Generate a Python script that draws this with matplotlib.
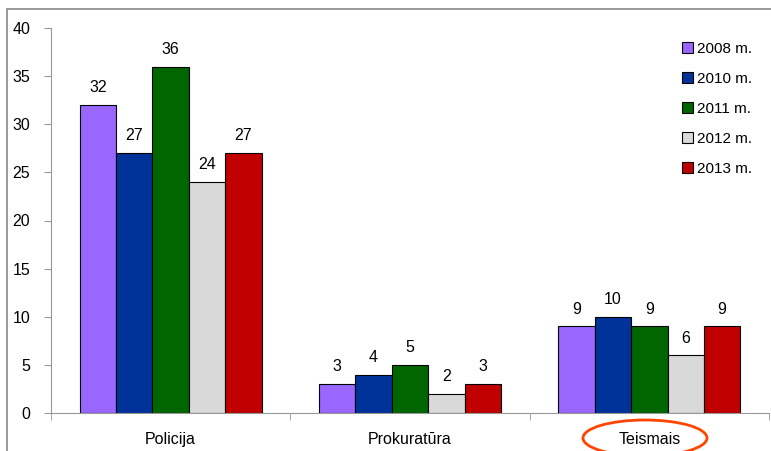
import matplotlib.pyplot as plt
from matplotlib.patches import Ellipse, Rectangle
import numpy as np

plt.rcParams['font.family'] = ['Liberation Sans', 'DejaVu Sans']

categories = ['Policija', 'Prokuratūra', 'Teismais']
years = ['2008 m.', '2010 m.', '2011 m.', '2012 m.', '2013 m.']
v2008 = [32, 3, 9]
v2010 = [27, 4, 10]
v2011 = [36, 5, 9]
v2012 = [24, 2, 6]
v2013 = [27, 3, 9]
series = [v2008, v2010, v2011, v2012, v2013]
colors = ['#9966FF', '#003399', '#006600', '#D9D9D9', '#C00000']

fig = plt.figure(figsize=(7.71, 4.51), dpi=100)
ax = fig.add_axes([51/771, 38/451, 718/771, 385/451])

x = np.arange(len(categories))
w = 0.152
for i, (vals, c) in enumerate(zip(series, colors)):
    pos = x + (i - 2) * w
    ax.bar(pos, vals, w, color=c, edgecolor='black', linewidth=0.8, label=years[i])
    for p, v in zip(pos, vals):
        ax.annotate(str(v), (p, v), xytext=(0, 7), textcoords='offset points',
                    ha='center', va='bottom', fontsize=11.5)

ax.set_xlim(-0.5, 2.5)
ax.set_ylim(0, 40)
ax.set_yticks(range(0, 41, 5))
ax.set_xticks(x)
ax.set_xticklabels(categories, fontsize=11.5)
ax.set_xticks([-0.5, 0.5, 1.5, 2.5], minor=True)
ax.tick_params(axis='x', which='major', length=0, pad=14)
ax.tick_params(axis='x', which='minor', length=5, color='#999999')
ax.tick_params(axis='y', length=5, color='#999999', labelsize=11.5, pad=10)
for s in ['top', 'right']:
    ax.spines[s].set_visible(False)
for s in ['left', 'bottom']:
    ax.spines[s].set_color('#999999')

ax.legend(loc='upper left', bbox_to_anchor=(668/771, 1 - 28/451), bbox_transform=fig.transFigure,
          frameon=False, fontsize=11, handlelength=0.75, handleheight=0.75,
          handletextpad=0.25, labelspacing=1.05)

# outer chart border
fig.patches.append(Rectangle((7/771, -0.05), 1.0, 1 - 9/451 + 0.05, transform=fig.transFigure,
                             fill=False, edgecolor='#888888', linewidth=1.2))
# red ellipse around Teismais
fig.patches.append(Ellipse((645/771, 1 - 438/451), 124/771, 36/451, transform=fig.transFigure,
                           fill=False, edgecolor='#FF4500', linewidth=2))

fig.savefig('out.png', dpi=100)
